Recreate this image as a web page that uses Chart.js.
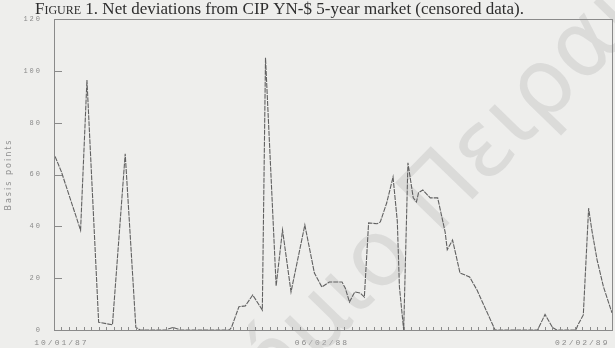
<!DOCTYPE html>
<html>
<head>
<meta charset="utf-8">
<script src="https://cdn.jsdelivr.net/npm/chart.js@4"></script>
<style>
  html, body { margin: 0; padding: 0; background: #eeeeec; }
  #wrap { width: 615px; height: 348px; }
</style>
</head>
<body>
<div id="wrap"><canvas id="myChart"></canvas></div>
<script>
// days counted from 10/01/87, weekly ticks
const days = [-6, 0, 18, 24, 35, 48, 60, 70, 74, 98, 105, 112, 158, 160, 167, 173, 180, 189, 192, 202,
  208, 216, 229, 238, 245, 252, 264, 267, 271, 276, 281, 285, 289, 297, 300, 306, 312, 316, 318, 322,
  326, 331, 334, 336, 340, 347, 354, 361, 363, 368, 375, 384, 391, 405, 408, 448, 455, 462, 466, 484,
  486, 491, 496, 499, 504, 510, 518];
const deviation = [67, 61, 38.5, 96.5, 3, 2, 68, 1, 0, 0, 1, 0, 0, 1, 9, 9.3, 13.5, 7.7, 105, 17,
  38.6, 14.7, 40.5, 22, 16.6, 18.5, 18.5, 16.2, 10.8, 14.7, 14.3, 12.7, 41.3, 41, 41.7, 49, 59, 42, 16.6, 0,
  64.5, 51, 49.4, 53, 54, 51, 51, 37.8, 31, 34.7, 22, 20.5, 15.4, 2.7, 0, 0, 6, 1, 0, 0,
  2, 5.8, 47, 38.6, 27, 16.6, 6.6];
const dateLabels = { 0: '10/01/87', 245: '06/02/88', 490: '02/02/89' };
const yTicks = [0, 20, 40, 60, 80, 100, 120];
const figTitle = 'Net deviations from CIP YN-$ 5-year market (censored data).';

const ctx = document.getElementById('myChart');

const frame = {
  id: 'frame',
  beforeUpdate(chart) { chart.ctx.letterSpacing = '2px'; },
  beforeDraw(chart) { chart.ctx.letterSpacing = '2px'; },
  beforeDatasetsDraw(chart) {
    const c = chart.ctx;
    c.save();
    c.letterSpacing = '0px';
    c.translate(437, 236);
    c.rotate(-0.8);
    c.font = "92px 'DejaVu Sans'";
    c.fillStyle = 'rgba(190,190,190,0.4)';
    c.textAlign = 'right';
    c.fillText('Πανεπιστήμιο ', 0, 0);
    c.textAlign = 'left';
    c.fillText('Πειραιώς', 0, 0);
    c.restore();
  },
  afterDraw(chart) {
    const { ctx: c, chartArea: a, scales: { x, y } } = chart;
    c.save();
    c.letterSpacing = '0px';
    c.strokeStyle = '#8a8a8a';
    c.lineWidth = 1;
    c.strokeRect(a.left + 0.5, a.top + 0.5, a.right - a.left, a.bottom - a.top);
    c.beginPath();
    x.ticks.forEach(t => {
      const px = Math.round(x.getPixelForValue(t.value)) + 0.5;
      c.moveTo(px, a.bottom);
      c.lineTo(px, a.bottom - 3);
    });
    y.ticks.forEach(t => {
      const py = Math.round(y.getPixelForValue(t.value)) + 0.5;
      c.moveTo(a.left, py);
      c.lineTo(a.left + 8, py);
    });
    c.stroke();

    c.fillStyle = '#2e2e2e';
    c.textBaseline = 'alphabetic';
    c.font = "small-caps 17px 'Liberation Serif'";
    c.fillText('Figure 1.', 35, 14);
    const w = c.measureText('Figure 1. ').width;
    c.font = "17px 'Liberation Serif'";
    c.fillText(figTitle, 35 + w, 14);
    c.restore();
  }
};

new Chart(ctx, {
  type: 'line',
  data: {
    datasets: [{
      data: days.map((d, i) => ({ x: d, y: deviation[i] })),
      borderColor: '#606060',
      borderWidth: 1.1,
      borderDash: [5, 1],
      pointRadius: 0,
      tension: 0
    }]
  },
  plugins: [frame],
  options: {
    responsive: true,
    maintainAspectRatio: false,
    animation: false,
    layout: { padding: { top: 19, right: 3 } },
    plugins: { legend: { display: false }, tooltip: { enabled: false } },
    scales: {
      x: {
        type: 'linear',
        min: -7,
        max: 518,
        grid: { display: false },
        border: { color: '#8a8a8a' },
        ticks: {
          stepSize: 7,
          autoSkip: false,
          maxRotation: 0,
          padding: 0,
          color: '#8a8a8a',
          font: { family: "'Liberation Mono'", size: 8 },
          callback: v => dateLabels[v] || ''
        },
        afterFit: s => { s.height = 18; }
      },
      y: {
        min: 0,
        max: 120,
        grid: { display: false },
        border: { color: '#8a8a8a' },
        afterBuildTicks: s => { s.ticks = yTicks.map(v => ({ value: v })); },
        ticks: {
          padding: 4,
          color: '#8a8a8a',
          font: { family: "'Liberation Mono'", size: 7 }
        },
        title: {
          display: true,
          text: 'Basis points',
          color: '#8f8f8f',
          font: { family: "'DejaVu Sans'", size: 8 },
          padding: { top: 4, bottom: 0 }
        },
        afterFit: s => { s.width = 54; }
      }
    }
  }
});
</script>
</body>
</html>
